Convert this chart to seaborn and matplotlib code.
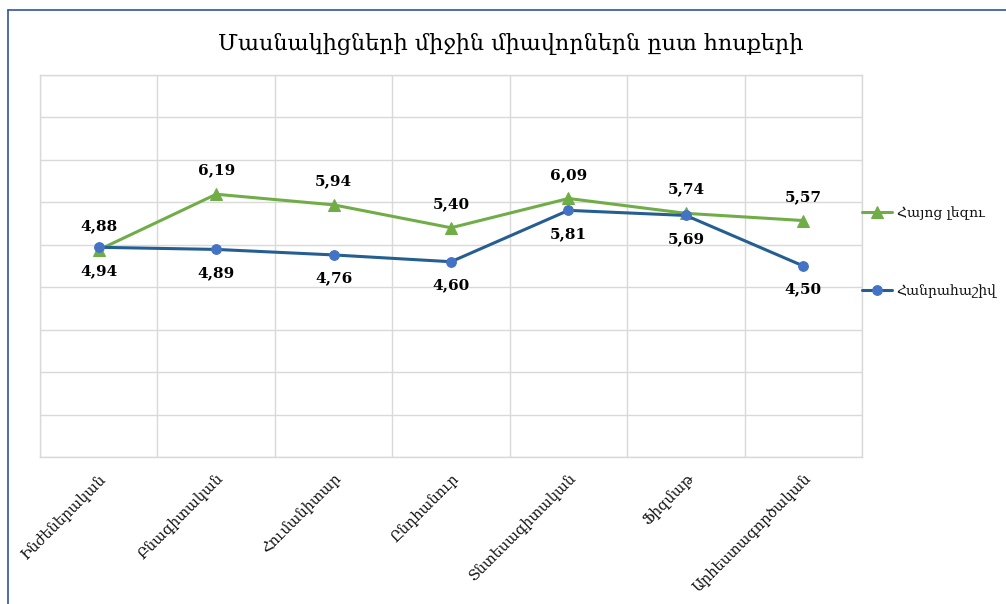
import matplotlib
matplotlib.use('Agg')
import matplotlib.pyplot as plt
import seaborn as sns
import pandas as pd
from matplotlib.lines import Line2D

# Տվյալներ
hosqer = ['Ինժեներական', 'Բնագիտական', 'Հումանիտար', 'Ընդհանուր',
          'Տնտեսագիտական', 'Ֆիզմաթ', 'Արհեստագործական']
hayoc_lezu = [4.88, 6.19, 5.94, 5.40, 6.09, 5.74, 5.57]
hanrahashiv = [4.94, 4.89, 4.76, 4.60, 5.81, 5.69, 4.50]

sns.set_theme(style='white')
plt.rcParams['font.family'] = ['DejaVu Serif', 'DejaVu Sans']

df = pd.DataFrame({'pos': range(len(hosqer)), 'hosq': hosqer,
                   'Հայոց լեզու': hayoc_lezu, 'Հանրահաշիվ': hanrahashiv})

fig = plt.figure(figsize=(10.06, 6.04), dpi=100)
ax = fig.add_axes([0.0398, 0.2434, 0.8171, 0.6325])

green = '#70ad47'
blue_line = '#255e91'
blue_mark = '#4472c4'

sns.lineplot(data=df, x='pos', y='Հայոց լեզու', ax=ax, color=green, lw=2.2,
             marker='^', markersize=8, markeredgecolor=green, label='Հայոց լեզու')
sns.lineplot(data=df, x='pos', y='Հանրահաշիվ', ax=ax, color=blue_line, lw=2.2,
             marker='o', markersize=7, markerfacecolor=blue_mark,
             markeredgecolor=blue_mark, label='Հանրահաշիվ')

# Տվյալների պիտակներ
for i, v in enumerate(hayoc_lezu):
    ax.annotate(f'{v:.2f}'.replace('.', ','), (i, v), xytext=(0, 12),
                textcoords='offset points', ha='center', va='bottom',
                fontsize=11, fontweight='bold', color='black')
for i, v in enumerate(hanrahashiv):
    ax.annotate(f'{v:.2f}'.replace('.', ','), (i, v), xytext=(0, -12),
                textcoords='offset points', ha='center', va='top',
                fontsize=11, fontweight='bold', color='black')

ax.set_xlim(-0.5, len(hosqer) - 0.5)
ax.set_ylim(0, 9)
ax.set_yticks(range(0, 10))
ax.set_yticklabels([])
ax.set_xticks([x + 0.5 for x in range(-1, len(hosqer))], minor=False)
ax.set_xticklabels([])
ax.set_xticks(range(len(hosqer)), minor=True)
ax.set_xticklabels(hosqer, minor=True, rotation=45, ha='right',
                   rotation_mode='anchor', fontsize=10.5, color='#111111')
ax.tick_params(axis='x', which='minor', length=0, pad=10)
ax.tick_params(axis='both', which='major', length=0)
ax.grid(True, which='major', color='#d9d9d9', lw=1)
ax.set_xlabel('')
ax.set_ylabel('')
for s in ax.spines.values():
    s.set_color('#d9d9d9')
    s.set_linewidth(1)

leg = ax.legend(loc='center left', bbox_to_anchor=(0.993, 0.537), frameon=False,
                labelspacing=4.6, handlelength=2.2, handletextpad=0.3,
                fontsize=10, borderaxespad=0.0)
for t in leg.get_texts():
    t.set_color('#111111')

fig.suptitle('Մասնակիցների միջին միավորներն ըստ հոսքերի', x=0.508, y=0.945,
             fontsize=16, color='black')

# Շրջանակ
fig.add_artist(Line2D([0.008, 0.008], [0, 0.983], color='#2f5597', lw=1.2,
                      transform=fig.transFigure))
fig.add_artist(Line2D([0.008, 1.0], [0.983, 0.983], color='#2f5597', lw=1.2,
                      transform=fig.transFigure))

fig.savefig('out.png', dpi=100, facecolor='white')
